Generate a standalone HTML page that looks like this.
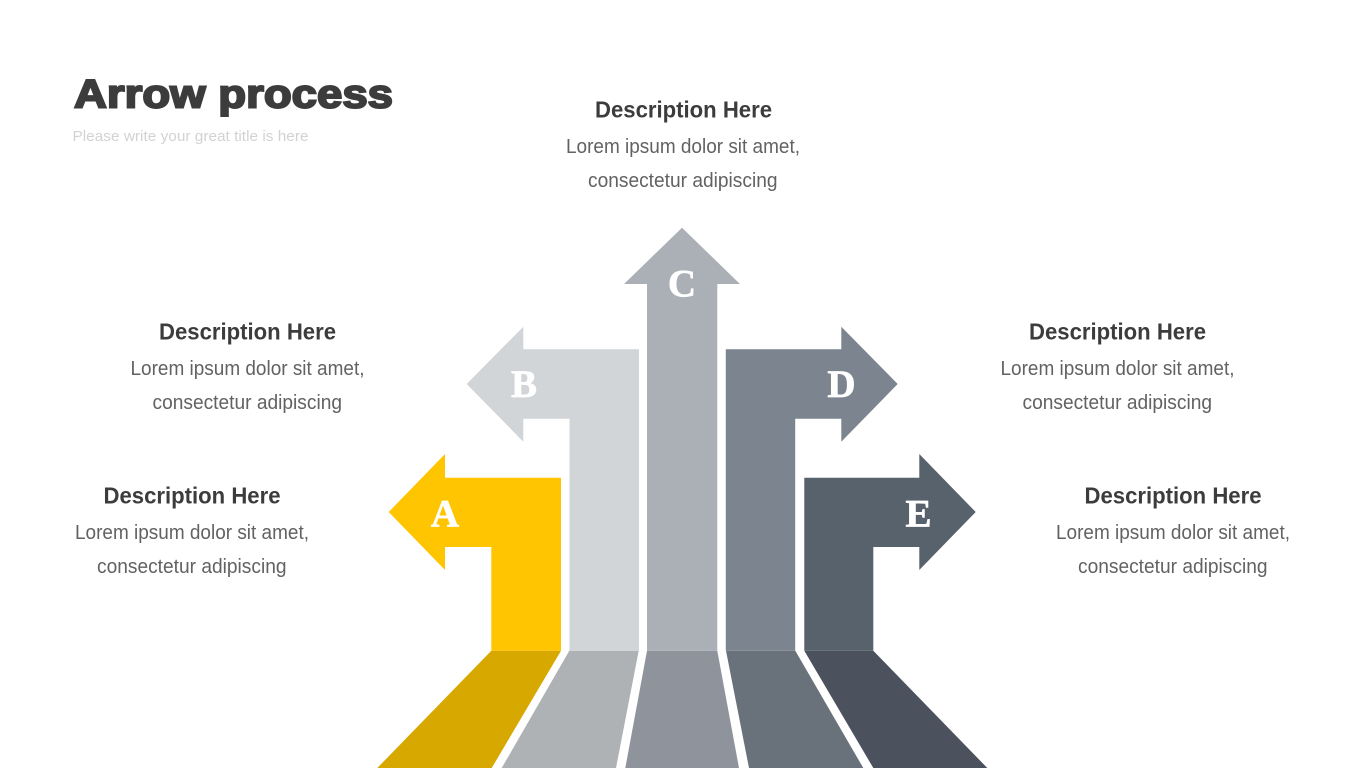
<!DOCTYPE html>
<html><head><meta charset="utf-8"><title>Arrow process</title>
<style>
html,body{margin:0;padding:0;background:#fff;width:1365px;height:768px;overflow:hidden}
svg{display:block}
text{font-family:"Liberation Sans",Arial,sans-serif}
.h{font-size:23px;font-weight:700;fill:#3c3c3c}
.b{font-size:20px;fill:#626262}
.l{font-family:"Liberation Serif",serif;font-weight:700;font-size:39px;fill:#fff;stroke:#fff;stroke-width:.7;text-anchor:middle}
</style></head><body>
<svg width="1365" height="768" viewBox="0 0 1365 768" xmlns="http://www.w3.org/2000/svg">
<rect width="1365" height="768" fill="#fff"/>
<text x="74" y="107.5" font-size="40" font-weight="700" fill="#3c3c3c" stroke="#3c3c3c" stroke-width="2" textLength="319" lengthAdjust="spacingAndGlyphs">Arrow process</text>
<text x="72.5" y="141" font-size="15" fill="#d2d2d2" textLength="236" lengthAdjust="spacingAndGlyphs">Please write your great title is here</text>

<!-- bases -->
<polygon points="491.3,650.7 561,650.7 491.7,768 377.3,768" fill="#D6A800"/>
<polygon points="569.3,650.7 638.7,650.7 616,768 501.7,768" fill="#AEB2B5"/>
<polygon points="647,650.7 717.3,650.7 739,768 625.3,768" fill="#8F949C"/>
<polygon points="726,650.7 795.3,650.7 863.3,768 749,768" fill="#69717A"/>
<polygon points="804.3,650.7 873.3,650.7 987.3,768 873.3,768" fill="#4B525D"/>

<!-- arrows -->
<polygon points="388.7,512 445,454 445,477.7 561,477.7 561,650.7 491.3,650.7 491.3,547 445,547 445,570" fill="#FFC501"/>
<polygon points="466.7,384 523.3,326.7 523.3,349.3 639,349.3 639,650.7 569.5,650.7 569.5,418.7 523.3,418.7 523.3,441.7" fill="#D1D5D8"/>
<polygon points="682,227.7 740,284 717.3,284 717.3,650.7 647,650.7 647,284 624,284" fill="#ABB0B7"/>
<polygon points="897.7,384 841.3,326.7 841.3,349.3 725.8,349.3 725.8,650.7 795.2,650.7 795.2,418.7 841.3,418.7 841.3,441.7" fill="#7C858F"/>
<polygon points="975.7,512 919.3,454 919.3,477.7 804.3,477.7 804.3,650.7 873.3,650.7 873.3,547 919.3,547 919.3,570" fill="#58626D"/>

<text class="l" x="445" y="526.5">A</text>
<text class="l" x="524" y="397">B</text>
<text class="l" x="682" y="296.5">C</text>
<text class="l" x="841.5" y="397">D</text>
<text class="l" x="918.5" y="526.5">E</text>

<!-- C -->
<text class="h" x="595" y="117.5" textLength="177" lengthAdjust="spacingAndGlyphs">Description Here</text>
<text class="b" x="566" y="153" textLength="234" lengthAdjust="spacingAndGlyphs">Lorem ipsum dolor sit amet,</text>
<text class="b" x="588" y="187" textLength="189.5" lengthAdjust="spacingAndGlyphs">consectetur adipiscing</text>
<!-- B -->
<text class="h" x="159" y="339.5" textLength="177" lengthAdjust="spacingAndGlyphs">Description Here</text>
<text class="b" x="130.5" y="375" textLength="234" lengthAdjust="spacingAndGlyphs">Lorem ipsum dolor sit amet,</text>
<text class="b" x="152.5" y="409" textLength="189.5" lengthAdjust="spacingAndGlyphs">consectetur adipiscing</text>
<!-- D -->
<text class="h" x="1029" y="339.5" textLength="177" lengthAdjust="spacingAndGlyphs">Description Here</text>
<text class="b" x="1000.5" y="375" textLength="234" lengthAdjust="spacingAndGlyphs">Lorem ipsum dolor sit amet,</text>
<text class="b" x="1022.5" y="409" textLength="189.5" lengthAdjust="spacingAndGlyphs">consectetur adipiscing</text>
<!-- A -->
<text class="h" x="103.5" y="503.5" textLength="177" lengthAdjust="spacingAndGlyphs">Description Here</text>
<text class="b" x="75" y="539" textLength="234" lengthAdjust="spacingAndGlyphs">Lorem ipsum dolor sit amet,</text>
<text class="b" x="97" y="573" textLength="189.5" lengthAdjust="spacingAndGlyphs">consectetur adipiscing</text>
<!-- E -->
<text class="h" x="1084.5" y="503.5" textLength="177" lengthAdjust="spacingAndGlyphs">Description Here</text>
<text class="b" x="1056" y="539" textLength="234" lengthAdjust="spacingAndGlyphs">Lorem ipsum dolor sit amet,</text>
<text class="b" x="1078" y="573" textLength="189.5" lengthAdjust="spacingAndGlyphs">consectetur adipiscing</text>
</svg>
</body></html>
